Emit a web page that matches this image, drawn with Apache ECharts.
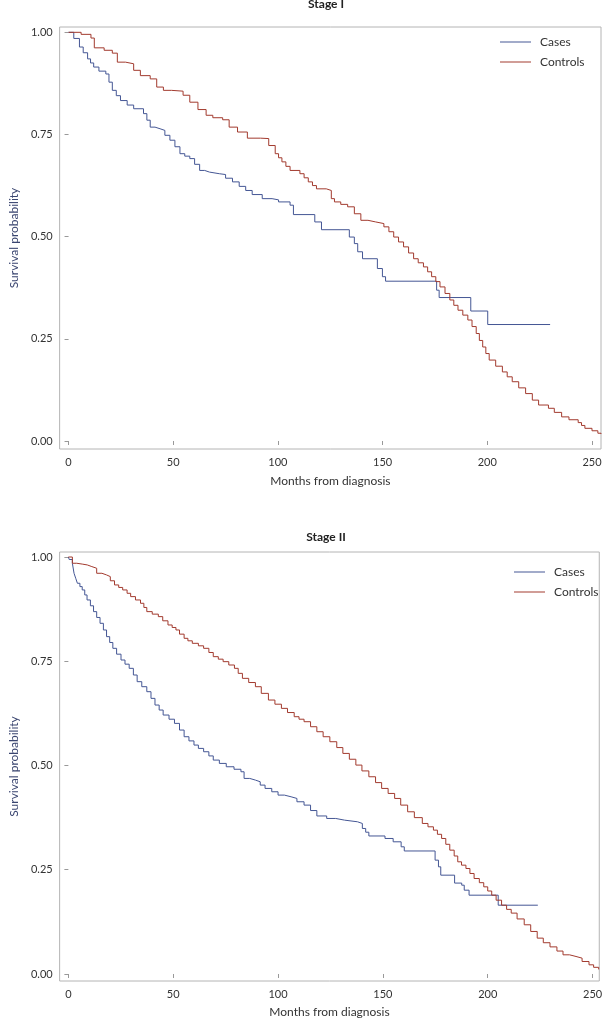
<!DOCTYPE html>
<html>
<head>
<meta charset="utf-8">
<script src="https://cdn.jsdelivr.net/npm/echarts@6/dist/echarts.min.js"></script>
<style>html,body{margin:0;padding:0;background:#fff}#c{width:605px;height:1020px}</style>
</head>
<body>
<div id="c"></div>
<script>
// ---- Data (months, survival probability) ----
var titles = ['Stage I', 'Stage II'];
var seriesNames = ['Cases', 'Controls'];
var xTicks = [0, 50, 100, 150, 200, 250];
var yTicks = [0, 0.25, 0.5, 0.75, 1];

var stage1Cases = [[0,1],[2.5,0.985],[5.2,0.964],[7,0.95],[9.1,0.935],[10.5,0.925],[12,0.915],[14.5,0.905],[17.8,0.898],[19.3,0.878],[20.9,0.858],[22.8,0.845],[24.8,0.833],[28,0.822],[31.1,0.813],[35.8,0.801],[37.4,0.785],[39,0.768],[41.3,0.764],[43.7,0.76],[46,0.748],[48.4,0.736],[50.8,0.72],[53.2,0.703],[55.5,0.697],[57.9,0.691],[60.2,0.677],[62.6,0.662],[65,0.658],[67.3,0.654],[72,0.652],[75,0.643],[78.3,0.634],[81.5,0.623],[84.6,0.613],[87.7,0.603],[92.5,0.593],[97.2,0.590],[100.3,0.585],[105.8,0.577],[107.4,0.554],[117.6,0.536],[120.8,0.517],[134.1,0.499],[136.5,0.483],[138.1,0.463],[140.4,0.446],[147.5,0.422],[149.9,0.402],[151.4,0.391],[175.8,0.369],[177,0.351],[192.1,0.318],[200.2,0.285],[230,0.285]];

var stage1Controls = [[0,1],[6,0.995],[10.7,0.986],[12.3,0.962],[17,0.956],[20.9,0.949],[23.3,0.927],[27.2,0.923],[31.1,0.907],[34.3,0.894],[39,0.886],[42.1,0.866],[45.3,0.858],[49.2,0.856],[54.7,0.846],[57.9,0.829],[61.8,0.811],[65.7,0.797],[68.9,0.791],[73.6,0.786],[76.7,0.768],[80.7,0.756],[85.4,0.741],[91.7,0.740],[95.6,0.723],[98.7,0.703],[100.3,0.693],[101.9,0.683],[103.8,0.672],[105.8,0.662],[110.5,0.654],[112.5,0.644],[114.5,0.634],[116.5,0.625],[118.4,0.617],[123.1,0.613],[125.5,0.593],[127,0.585],[130,0.579],[133.3,0.573],[136.5,0.556],[139.6,0.540],[143,0.536],[146.7,0.532],[150.6,0.524],[153,0.512],[155.3,0.499],[157.6,0.487],[160,0.475],[162.4,0.460],[164.8,0.446],[167,0.436],[169.5,0.426],[171.5,0.414],[173.4,0.402],[175.4,0.390],[177.4,0.377],[179.8,0.361],[182.1,0.345],[184,0.332],[186,0.320],[188.3,0.308],[190.7,0.296],[192.7,0.280],[194.7,0.263],[196.2,0.246],[197.8,0.230],[199.3,0.214],[200.9,0.198],[204,0.183],[207.2,0.169],[209.5,0.157],[211.9,0.145],[215,0.130],[218.3,0.116],[221.5,0.100],[224.5,0.088],[229.2,0.080],[232,0.070],[235.5,0.059],[239,0.052],[243.4,0.045],[245,0.038],[246.6,0.031],[250,0.025],[252.8,0.019],[254.3,0.017]];

var stage2Cases = [[0,1],[0.4,0.994],[1.9,0.985],[2.7,0.961],[3.5,0.949],[4.3,0.937],[5.5,0.929],[6.6,0.921],[7.8,0.909],[8.9,0.897],[10.5,0.883],[12,0.869],[13.5,0.855],[15.1,0.841],[16.7,0.825],[18.2,0.809],[19.7,0.795],[21.2,0.781],[23,0.767],[25.1,0.753],[27,0.743],[29,0.733],[31,0.717],[32.8,0.701],[35,0.689],[37.4,0.677],[39.4,0.661],[41.3,0.645],[43.3,0.633],[45.2,0.621],[48,0.611],[50.6,0.601],[53,0.585],[55.2,0.569],[57.5,0.559],[59.9,0.549],[62,0.541],[64.5,0.533],[67,0.523],[69.1,0.513],[72,0.505],[75.3,0.497],[79,0.491],[82.3,0.485],[83.8,0.469],[86.5,0.465],[89.2,0.461],[91.5,0.453],[93.8,0.445],[97,0.437],[100,0.429],[103,0.425],[106.2,0.421],[109,0.413],[112.4,0.405],[115.5,0.392],[118.5,0.379],[123.2,0.373],[127.5,0.369],[131.7,0.365],[137.9,0.361],[140.2,0.349],[141.8,0.340],[143.3,0.331],[151,0.325],[154.9,0.317],[158.7,0.305],[160.2,0.295],[174.9,0.273],[176.5,0.257],[177.6,0.237],[184.2,0.218],[187.6,0.213],[188.8,0.201],[191.1,0.189],[205,0.165],[223.9,0.165]];

var stage2Controls = [[0,1],[1.9,0.985],[4,0.983],[6.6,0.981],[9,0.977],[11.2,0.973],[13.5,0.961],[16,0.957],[18.2,0.953],[20,0.943],[22,0.933],[24,0.927],[25.9,0.921],[28,0.913],[29.7,0.905],[32,0.897],[34.4,0.889],[36,0.879],[37.4,0.869],[40,0.863],[42.9,0.857],[45,0.847],[47.5,0.837],[49.5,0.831],[51.3,0.825],[53,0.815],[55.2,0.805],[57,0.799],[59.1,0.793],[62,0.787],[64.5,0.781],[67,0.771],[69.1,0.761],[71.5,0.755],[73.8,0.749],[76.5,0.741],[79.2,0.733],[81,0.721],[83,0.709],[86,0.699],[89.2,0.689],[92,0.673],[95.4,0.657],[98.5,0.647],[101.6,0.637],[104.5,0.627],[107.7,0.617],[110,0.611],[112.4,0.605],[115.5,0.593],[118.5,0.581],[121.5,0.569],[124.7,0.557],[128,0.543],[130.9,0.529],[134,0.515],[137.1,0.501],[140,0.487],[143.3,0.473],[146.5,0.459],[149.4,0.445],[152.5,0.433],[155.6,0.421],[158.5,0.405],[161.8,0.389],[165,0.375],[168.8,0.361],[171.5,0.353],[174.1,0.345],[176,0.335],[178,0.325],[180,0.311],[181.9,0.297],[184,0.283],[185.7,0.269],[187.5,0.261],[189.6,0.253],[191.5,0.241],[193.5,0.229],[196,0.219],[198.1,0.209],[200,0.199],[201.9,0.189],[204,0.177],[206.6,0.165],[209,0.155],[211.2,0.146],[214,0.132],[217.4,0.118],[220.5,0.102],[223.6,0.086],[226.5,0.075],[229.7,0.065],[233,0.055],[235.9,0.046],[239,0.042],[242.1,0.038],[245,0.030],[248.3,0.022],[250.5,0.016],[252.9,0.011],[253.2,0.011]];

var BLUE = '#445694', RED = '#a23a2e';
var FONT = 'Lato';

var chart = echarts.init(document.getElementById('c'), null, {renderer: 'canvas'});

function xAx(gi, min, max, gap) {
  return {
    type: 'value', gridIndex: gi, min: min, max: max,
    name: 'Months from diagnosis', nameLocation: 'middle', nameGap: gap,
    nameTextStyle: {fontFamily: FONT, fontSize: 12, color: '#333'},
    axisLine: {show: false}, splitLine: {show: false},
    axisTick: {show: true, length: 4, lineStyle: {color: '#999'}, customValues: xTicks},
    axisLabel: {fontFamily: FONT, fontSize: 11, color: '#333', margin: 8, customValues: xTicks}
  };
}
function yAx(gi, min, max, gap) {
  return {
    type: 'value', gridIndex: gi, min: min, max: max,
    name: 'Survival probability', nameLocation: 'middle', nameGap: gap,
    nameTextStyle: {fontFamily: FONT, fontSize: 12, color: '#3a4570'},
    axisLine: {show: false}, splitLine: {show: false},
    axisTick: {show: true, length: 4, lineStyle: {color: '#999'}, customValues: yTicks},
    axisLabel: {fontFamily: FONT, fontSize: 11, color: '#333', margin: 7, customValues: yTicks,
      formatter: function (v) { return v.toFixed(2); }}
  };
}
function ser(name, data, gi, color) {
  return {
    type: 'line', name: name, data: data, xAxisIndex: gi, yAxisIndex: gi,
    step: 'end', showSymbol: false, symbol: 'none', animation: false,
    lineStyle: {color: color, width: 1}, itemStyle: {color: color}
  };
}
function leg(left, top) {
  return {
    data: seriesNames, left: left, top: top, orient: 'vertical', padding: 0, itemGap: 6,
    itemWidth: 31, itemHeight: 1, icon: 'rect', selectedMode: false,
    textStyle: {fontFamily: FONT, fontSize: 12, color: '#333', lineHeight: 14, padding: [0, 0, 0, 4]}
  };
}

chart.setOption({
  animation: false,
  title: [
    {text: titles[0], left: 326, top: -2, textAlign: 'center', padding: 0,
     textStyle: {fontFamily: FONT, fontSize: 12, fontWeight: 'bold', color: '#222'}},
    {text: titles[1], left: 326, top: 531, textAlign: 'center', padding: 0,
     textStyle: {fontFamily: FONT, fontSize: 12, fontWeight: 'bold', color: '#222'}}
  ],
  legend: [leg(500, 35), leg(514, 565)],
  grid: [
    {left: 55, top: 27, width: 546, height: 422, show: true, borderColor: '#b4b4b4', borderWidth: 1, backgroundColor: 'transparent'},
    {left: 48.5, top: 552, width: 555.5, height: 429, show: true, borderColor: '#b4b4b4', borderWidth: 1, backgroundColor: 'transparent'}
  ],
  xAxis: [xAx(0, -4.26, 254.3, 26), xAx(1, -4.17, 253.2, 25)],
  yAxis: [yAx(0, -0.0196, 1.013, 37), yAx(1, -0.0168, 1.012, 34)],
  series: [
    ser(seriesNames[0], stage1Cases, 0, BLUE),
    ser(seriesNames[1], stage1Controls, 0, RED),
    ser(seriesNames[0], stage2Cases, 1, BLUE),
    ser(seriesNames[1], stage2Controls, 1, RED)
  ]
});
</script>
</body>
</html>
